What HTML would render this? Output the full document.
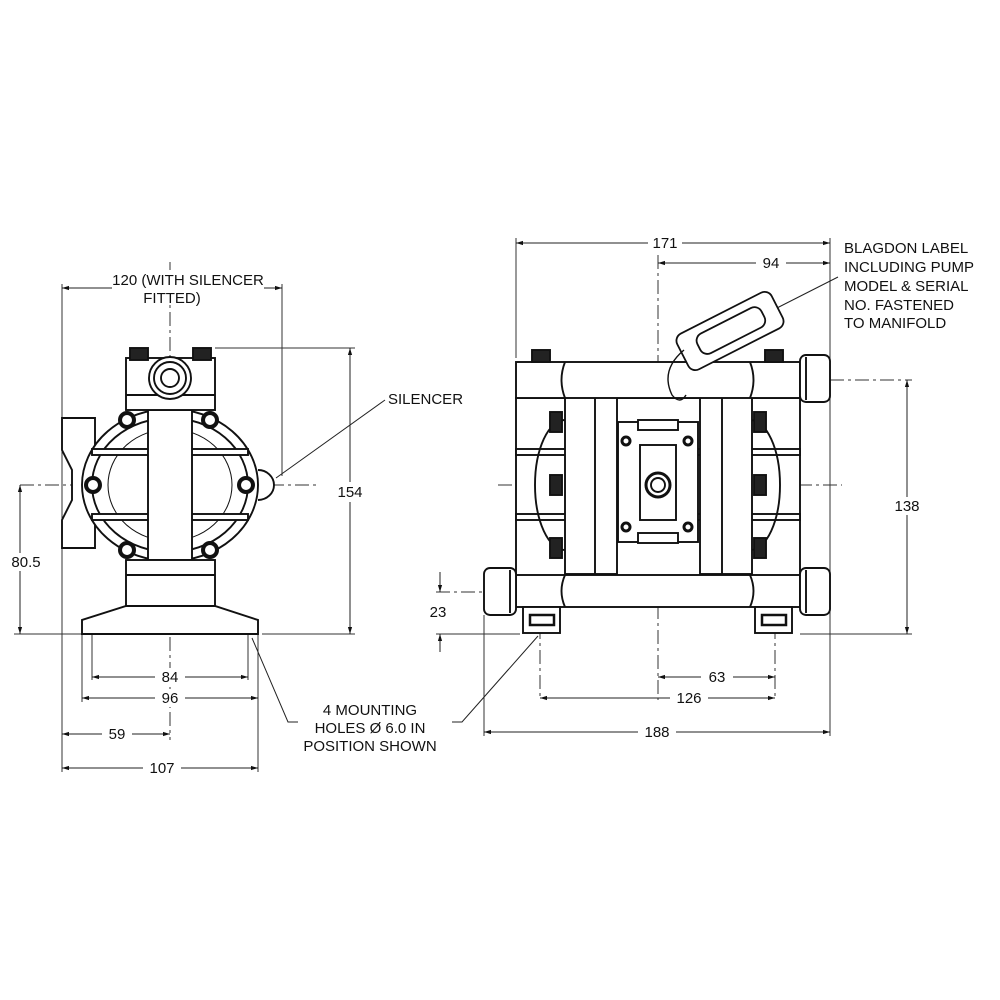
<!DOCTYPE html>
<html><head><meta charset="utf-8"><style>
html,body{margin:0;padding:0;background:#fff}
svg{display:block}
text{font-family:"Liberation Sans",Arial,sans-serif;font-size:15px;fill:#111}
</style></head><body>
<svg width="1000" height="1000" viewBox="0 0 1000 1000" xmlns="http://www.w3.org/2000/svg">
<defs>
<marker id="a" viewBox="0 0 10 10" refX="10" refY="5" markerWidth="9" markerHeight="7" orient="auto-start-reverse" markerUnits="userSpaceOnUse"><path d="M0,2 L10,5 L0,8 z" fill="#111"/></marker>
</defs>
<rect width="1000" height="1000" fill="#fff"/>
<g stroke="#333" stroke-width="1" stroke-dasharray="14,4,3,4" fill="none">
<line x1="170" y1="262" x2="170" y2="740"/>
<line x1="20" y1="485" x2="320" y2="485"/>
<line x1="658" y1="255" x2="658" y2="700"/>
<line x1="498" y1="485" x2="842" y2="485"/>
<line x1="830" y1="380" x2="912" y2="380"/>
<line x1="436" y1="592" x2="488" y2="592"/>
<line x1="540" y1="600" x2="540" y2="700"/>
<line x1="775" y1="600" x2="775" y2="700"/>
</g>
<g stroke="#333" stroke-width="1" fill="none">
<line x1="82" y1="630" x2="82" y2="702"/>
<line x1="92" y1="630" x2="92" y2="680"/>
<line x1="248" y1="630" x2="248" y2="680"/>
<line x1="62" y1="284" x2="62" y2="772"/>
<line x1="282" y1="284" x2="282" y2="476"/>
<line x1="215" y1="348" x2="355" y2="348"/>
<line x1="262" y1="634" x2="355" y2="634"/>
<line x1="14" y1="634" x2="82" y2="634"/>
<line x1="258" y1="634" x2="258" y2="772"/>
<line x1="516" y1="238" x2="516" y2="358"/>
<line x1="830" y1="238" x2="830" y2="736"/>
<line x1="484" y1="615" x2="484" y2="736"/>
<line x1="800" y1="634" x2="912" y2="634"/>
<line x1="436" y1="634" x2="520" y2="634"/>
</g>
<g stroke="#222" stroke-width="1" fill="none" marker-start="url(#a)" marker-end="url(#a)">
<line x1="62" y1="288" x2="282" y2="288"/>
<line x1="350" y1="348" x2="350" y2="634"/>
<line x1="20" y1="485" x2="20" y2="634"/>
<line x1="92" y1="677" x2="248" y2="677"/>
<line x1="82" y1="698" x2="258" y2="698"/>
<line x1="62" y1="734" x2="170" y2="734"/>
<line x1="62" y1="768" x2="258" y2="768"/>
<line x1="516" y1="243" x2="830" y2="243"/>
<line x1="658" y1="263" x2="830" y2="263"/>
<line x1="907" y1="380" x2="907" y2="634"/>
<line x1="658" y1="677" x2="775" y2="677"/>
<line x1="540" y1="698" x2="775" y2="698"/>
<line x1="484" y1="732" x2="830" y2="732"/>
</g>
<g stroke="#222" stroke-width="1" fill="none">
<line x1="440" y1="572" x2="440" y2="592" marker-end="url(#a)"/>
<line x1="440" y1="652" x2="440" y2="634" marker-end="url(#a)"/>
</g>
<g fill="#fff">
<rect x="112" y="270" width="152" height="34"/>
<rect x="336" y="482" width="30" height="20"/>
<rect x="6" y="553" width="40" height="18"/>
<rect x="155" y="668" width="30" height="18"/>
<rect x="155" y="689" width="30" height="18"/>
<rect x="102" y="725" width="30" height="18"/>
<rect x="143" y="759" width="38" height="18"/>
<rect x="648" y="234" width="34" height="18"/>
<rect x="756" y="254" width="30" height="18"/>
<rect x="891" y="497" width="34" height="18"/>
<rect x="701" y="668" width="32" height="18"/>
<rect x="670" y="689" width="38" height="18"/>
<rect x="638" y="723" width="38" height="18"/>
</g>
<text x="188" y="285" text-anchor="middle">120 (WITH SILENCER</text>
<text x="172" y="303" text-anchor="middle">FITTED)</text>
<text x="350" y="497" text-anchor="middle">154</text>
<text x="26" y="567" text-anchor="middle">80.5</text>
<text x="170" y="682" text-anchor="middle">84</text>
<text x="170" y="703" text-anchor="middle">96</text>
<text x="117" y="739" text-anchor="middle">59</text>
<text x="162" y="773" text-anchor="middle">107</text>
<text x="388" y="404">SILENCER</text>
<text x="665" y="248" text-anchor="middle">171</text>
<text x="771" y="268" text-anchor="middle">94</text>
<text x="907" y="511" text-anchor="middle">138</text>
<text x="438" y="617" text-anchor="middle">23</text>
<text x="717" y="682" text-anchor="middle">63</text>
<text x="689" y="703" text-anchor="middle">126</text>
<text x="657" y="737" text-anchor="middle">188</text>
<text x="844" y="253">BLAGDON LABEL</text>
<text x="844" y="272">INCLUDING PUMP</text>
<text x="844" y="291">MODEL &amp; SERIAL</text>
<text x="844" y="310">NO. FASTENED</text>
<text x="844" y="328">TO MANIFOLD</text>
<text x="370" y="715" text-anchor="middle">4 MOUNTING</text>
<text x="370" y="733" text-anchor="middle">HOLES Ø 6.0 IN</text>
<text x="370" y="751" text-anchor="middle">POSITION SHOWN</text>
<g stroke="#222" stroke-width="1" fill="none">
<line x1="385" y1="400" x2="276" y2="478"/>
<polyline points="298,722 288,722 252,638"/>
<polyline points="452,722 462,722 538,636"/>
<line x1="773" y1="310" x2="838" y2="277"/>
</g>
<g stroke="#111" stroke-width="1.9" fill="#fff">
<path d="M62,418 L95,418 L95,548 L62,548 L62,520 L72,500 L72,470 L62,450 z"/>
<path d="M258,470 A16,15 0 0 1 258,500" fill="#fff"/>
<ellipse cx="170" cy="485" rx="88" ry="76"/>
<ellipse cx="170" cy="485" rx="78" ry="67"/>
<ellipse cx="170" cy="485" rx="62" ry="56" stroke-width="1"/>
<rect x="92" y="449" width="156" height="6"/>
<rect x="92" y="514" width="156" height="6"/>
<rect x="148" y="410" width="44" height="150"/>
<rect x="126" y="358" width="89" height="52"/>
<line x1="126" y1="395" x2="215" y2="395"/>
<circle cx="170" cy="378" r="21"/>
<circle cx="170" cy="378" r="16"/>
<circle cx="170" cy="378" r="9"/>
<rect x="130" y="348" width="18" height="12" fill="#222"/>
<rect x="193" y="348" width="18" height="12" fill="#222"/>
<rect x="126" y="560" width="89" height="46"/>
<line x1="126" y1="575" x2="215" y2="575"/>
<path d="M126,606 L215,606 L258,620 L258,634 L82,634 L82,620 z"/>
</g>
<g stroke="#111" stroke-width="4" fill="#fff">
<circle cx="127" cy="420" r="7"/><circle cx="210" cy="420" r="7"/>
<circle cx="93" cy="485" r="7"/><circle cx="246" cy="485" r="7"/>
<circle cx="127" cy="550" r="7"/><circle cx="210" cy="550" r="7"/>
</g>
<g stroke="#111" stroke-width="1.9" fill="#fff">
<rect x="516" y="398" width="284" height="178"/>
<rect x="516" y="449" width="284" height="6"/>
<rect x="516" y="514" width="284" height="6"/>
<path d="M565,420 A30,65 0 0 0 565,550" fill="none"/>
<path d="M750,420 A30,65 0 0 1 750,550" fill="none"/>
<rect x="618" y="422" width="80" height="120"/>
<rect x="638" y="420" width="40" height="10"/>
<rect x="638" y="533" width="40" height="10"/>
<rect x="640" y="445" width="36" height="75"/>
<circle cx="658" cy="485" r="12" stroke-width="3"/>
<circle cx="658" cy="485" r="7"/>
<rect x="565" y="396" width="52" height="178"/>
<line x1="595" y1="396" x2="595" y2="574"/>
<rect x="700" y="396" width="52" height="178"/>
<line x1="722" y1="396" x2="722" y2="574"/>
<rect x="516" y="362" width="284" height="36"/>
<path d="M565,362 Q558,380 565,398 M750,362 Q757,380 750,398" fill="none"/>
<rect x="800" y="355" width="30" height="47" rx="6"/>
<line x1="806" y1="357" x2="806" y2="400"/>
<rect x="516" y="575" width="284" height="32"/>
<path d="M565,575 Q558,591 565,607 M750,575 Q757,591 750,607" fill="none"/>
<rect x="484" y="568" width="32" height="47" rx="6"/>
<line x1="510" y1="570" x2="510" y2="613"/>
<rect x="800" y="568" width="30" height="47" rx="6"/>
<line x1="806" y1="570" x2="806" y2="613"/>
<rect x="523" y="607" width="37" height="26"/>
<rect x="530" y="615" width="24" height="10" stroke-width="2.5"/>
<rect x="755" y="607" width="37" height="26"/>
<rect x="762" y="615" width="24" height="10" stroke-width="2.5"/>
<rect x="532" y="350" width="18" height="12" fill="#222"/>
<rect x="765" y="350" width="18" height="12" fill="#222"/>
<rect x="550" y="412" width="12" height="20" fill="#222"/>
<rect x="550" y="475" width="12" height="20" fill="#222"/>
<rect x="550" y="538" width="12" height="20" fill="#222"/>
<rect x="754" y="412" width="12" height="20" fill="#222"/>
<rect x="754" y="475" width="12" height="20" fill="#222"/>
<rect x="754" y="538" width="12" height="20" fill="#222"/>
</g>
<g stroke="#111" stroke-width="3" fill="#fff">
<circle cx="626" cy="441" r="4"/><circle cx="688" cy="441" r="4"/>
<circle cx="626" cy="527" r="4"/><circle cx="688" cy="527" r="4"/>
</g>
<g transform="translate(730,331) rotate(-27)" stroke="#111" stroke-width="1.8" fill="#fff">
<rect x="-53" y="-20" width="106" height="40" rx="8"/>
<rect x="-35" y="-11" width="72" height="22" rx="8"/>
</g>
<path d="M684,350 Q660,370 672,395 Q680,405 686,395" stroke="#111" stroke-width="1.4" fill="none"/>
</svg>
</body></html>
